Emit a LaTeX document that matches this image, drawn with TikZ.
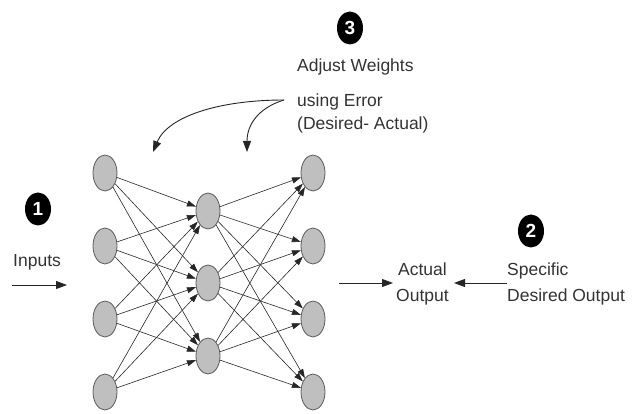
\documentclass[tikz,border=0pt]{standalone}
\usepackage{fontspec}
\setmainfont{Liberation Sans}
\usetikzlibrary{arrows.meta,shapes.geometric}
\begin{document}
\begin{tikzpicture}[x=1pt,y=-1pt,
  neuron/.style={ellipse,draw=black!65,fill=black!25,line width=0.8pt,minimum width=24pt,minimum height=36pt,inner sep=0pt},
  badge/.style={ellipse,fill=black,text=white,font=\bfseries\fontsize{19}{19}\selectfont,minimum width=26pt,minimum height=33pt,inner sep=0pt},
  lbl/.style={font=\fontsize{17.5}{20}\selectfont,anchor=base west,inner sep=0pt,text=black!80},
  wire/.style={draw=black!85,line width=0.6pt,-{Triangle[length=9pt,width=6pt]}},
  bigarrow/.style={draw=black!85,line width=0.9pt,-{Triangle[length=11pt,width=8pt]}}
]
\useasboundingbox (0,0) rectangle (633,414);

% neurons
\node[neuron] (i1) at (105,173) {};
\node[neuron] (i2) at (105,246) {};
\node[neuron] (i3) at (105,319) {};
\node[neuron] (i4) at (105,392) {};
\node[neuron] (h1) at (208,211) {};
\node[neuron] (h2) at (208,283) {};
\node[neuron] (h3) at (208,356) {};
\node[neuron] (o1) at (313,173) {};
\node[neuron] (o2) at (313,246) {};
\node[neuron] (o3) at (313,319) {};
\node[neuron] (o4) at (313,392) {};

\foreach \a in {1,...,4}{
  \foreach \b in {1,2,3}{
    \draw[wire] (i\a) -- (h\b);
    \draw[wire] (h\b) -- (o\a);
  }
}

% badges
\node[badge] (b1) at (38,209) {1};
\node[badge] (b2) at (531,231) {2};
\node[badge] (b3) at (350,28) {3};

% labels
\node[lbl] (tAdj) at (297,72) {Adjust Weights};
\node[lbl] (tUse) at (297,107) {using Error};
\node[lbl] (tDes) at (297,130) {(Desired- Actual)};
\node[lbl] (tIn) at (13,267) {Inputs};
\node[lbl] (tAct) at (398,276) {Actual};
\node[lbl] (tOut) at (396,302) {Output};
\node[lbl] (tSpec) at (507,276) {Specific};
\node[lbl] (tDO) at (507,302) {Desired Output};

% arrows
\coordinate (c3) at (284,100);
\coordinate (a1) at (153,152);
\coordinate (a2) at (247,152);
\draw[bigarrow] (c3) .. controls (220,100) and (168,116) .. (a1);
\draw[bigarrow] (c3) .. controls (258,108) and (247,125) .. (a2);

\coordinate (inA) at (12,285);
\coordinate (inB) at (67,285);
\draw[bigarrow] (inA) -- (inB);

\coordinate (acA) at (339,283);
\coordinate (acB) at (393,283);
\draw[bigarrow] (acA) -- (acB);

\coordinate (dsA) at (507,283);
\coordinate (dsB) at (454,283);
\draw[bigarrow] (dsA) -- (dsB);
\end{tikzpicture}
\end{document}
